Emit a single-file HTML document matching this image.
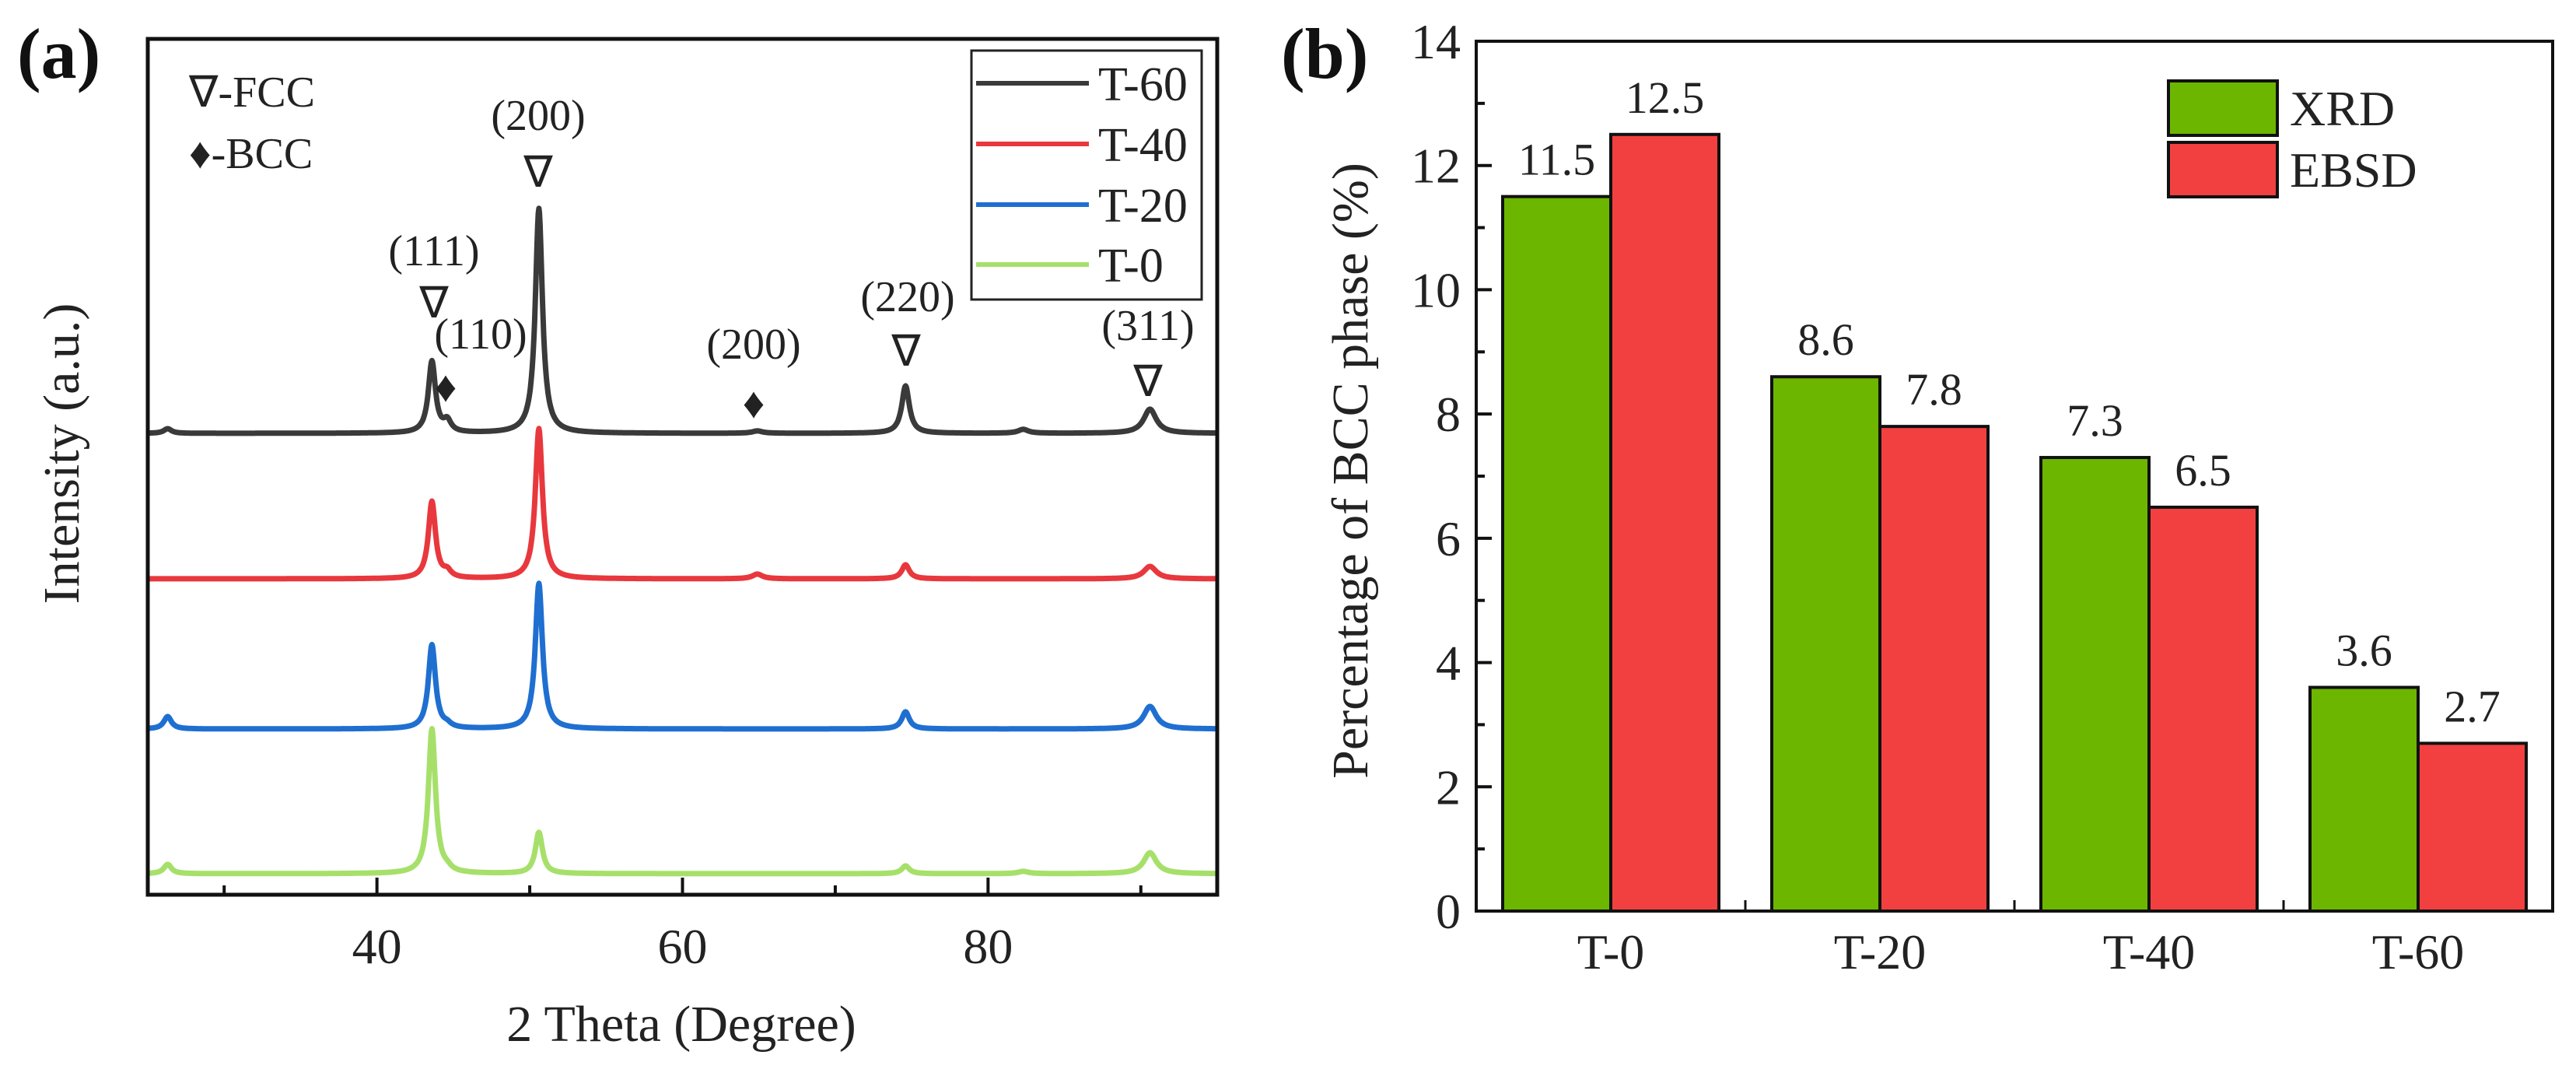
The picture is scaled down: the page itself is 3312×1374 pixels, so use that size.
<!DOCTYPE html>
<html>
<head>
<meta charset="utf-8">
<style>
html,body{margin:0;padding:0;background:#fff;}
svg{display:block;font-family:"Liberation Serif",serif;}
</style>
</head>
<body>
<svg id="fig" width="3312" height="1374" viewBox="0 0 3312 1374" xmlns="http://www.w3.org/2000/svg">
  <g id="panelA"></g>
  <g id="panelB"></g>
</svg>
<script>
// ---------- Panel (a) data ----------
const xrdSeries = ["T-60", "T-40", "T-20", "T-0"];
const xrdColors = ["#3a3a3a", "#e8383d", "#1f6fd1", "#a6e06a"];
const xrdOffsets = [593, 406, 213, 27];           // baseline offset (a.u.)
const peakPos = [26.3, 43.6, 44.6, 50.6, 64.9, 74.6, 82.3, 90.6];
const peakWidth = [0.3, 0.28, 0.3, 0.28, 0.4, 0.3, 0.4, 0.5];
const heightsT60 = [6, 92, 14, 289, 3, 61, 5, 31];
const heightsT40 = [0, 99, 8, 193, 6, 18, 0, 16];
const heightsT20 = [16, 108, 4, 187, 0, 22, 0, 29];
const heightsT0 = [12, 186, 4, 53, 0, 10, 3, 27];
const xrdHeights = [heightsT60, heightsT40, heightsT20, heightsT0];
const xTicks = [40, 60, 80];
const xMinorTicks = [30, 50, 70, 90];

// ---------- Panel (b) data ----------
const categories = ["T-0", "T-20", "T-40", "T-60"];
const xrdValues = [11.5, 8.6, 7.3, 3.6];
const ebsdValues = [12.5, 7.8, 6.5, 2.7];
const xrdLabels = ["11.5", "8.6", "7.3", "3.6"];
const ebsdLabels = ["12.5", "7.8", "6.5", "2.7"];
const yTicks = [0, 2, 4, 6, 8, 10, 12, 14];
const yMinorTicks = [1, 3, 5, 7, 9, 11, 13];

const NS = "http://www.w3.org/2000/svg";
function mk(parent, tag, attrs, text) {
  const e = document.createElementNS(NS, tag);
  for (const k in attrs) e.setAttribute(k, attrs[k]);
  if (text !== undefined) e.textContent = text;
  parent.appendChild(e);
  return e;
}

// ================= Panel A =================
const A = document.getElementById("panelA");
const aL = 190, aR = 1565, aT = 50, aB = 1150;
const xMin = 25, xMax = 95;
const ax = v => aL + (v - xMin) / (xMax - xMin) * (aR - aL);
const ay = v => aB - v;

xrdSeries.forEach((name, si) => {
  const h = xrdHeights[si];
  let d = "";
  for (let x = xMin; x <= xMax + 1e-9; x += 0.04) {
    let y = xrdOffsets[si];
    for (let p = 0; p < peakPos.length; p++) {
      const t = (x - peakPos[p]) / peakWidth[p];
      y += h[p] / (1 + t * t);
    }
    d += (d ? "L" : "M") + ax(x).toFixed(1) + "," + ay(y).toFixed(1);
  }
  const path = mk(A, "path", {d: d, fill: "none", stroke: xrdColors[si], "stroke-width": 7, "stroke-linejoin": "round"});
  
  
});

const fa = mk(A, "rect", {x: aL, y: aT, width: aR - aL, height: aB - aT, fill: "none", stroke: "#111", "stroke-width": 5});



xTicks.forEach(v => {
  const t = mk(A, "line", {x1: ax(v), x2: ax(v), y1: aB, y2: aB - 22, stroke: "#111", "stroke-width": 4});
  
  
  const l = mk(A, "text", {x: ax(v), y: 1238, "font-size": 64, "text-anchor": "middle", fill: "#222"}, String(v));
  
  
});
xMinorTicks.forEach(v => {
  const t = mk(A, "line", {x1: ax(v), x2: ax(v), y1: aB, y2: aB - 12, stroke: "#111", "stroke-width": 4});
  
  
});
</script>
<script>
(function(){
const A = document.getElementById("panelA");
function mk(parent, tag, attrs, text) {
  const e = document.createElementNS("http://www.w3.org/2000/svg", tag);
  for (const k in attrs) e.setAttribute(k, attrs[k]);
  if (text !== undefined) e.textContent = text;
  parent.appendChild(e);
  return e;
}
let e;
e = mk(A, "text", {x: 22, y: 100, "font-size": 92, "font-weight": "bold", fill: "#111"}, "(a)");
 
e = mk(A, "text", {x: 876, y: 1338, "font-size": 66, "text-anchor": "middle", fill: "#222"}, "2 Theta (Degree)");
 
e = mk(A, "text", {x: 0, y: 0, "font-size": 66, "text-anchor": "middle", fill: "#222", transform: "translate(101,583) rotate(-90)"}, "Intensity (a.u.)");
 
e = mk(A, "text", {x: 243, y: 137, "font-size": 56, fill: "#222"}, "∇-FCC");
 
e = mk(A, "text", {x: 243, y: 216, "font-size": 56, fill: "#222"}, "♦-BCC");
 

const ann = [
  ["(200)", 692, 167, "fcc-200-label"], ["∇", 692, 240, "fcc-200-marker"],
  ["(111)", 558, 341, "fcc-111-label"], ["∇", 558, 408, "fcc-111-marker"],
  ["(110)", 618, 448, "bcc-110-label"], ["♦", 573, 516, "bcc-110-marker"],
  ["(200)", 969, 461, "bcc-200-label"], ["♦", 969, 537, "bcc-200-marker"],
  ["(220)", 1167, 400, "fcc-220-label"], ["∇", 1165, 470, "fcc-220-marker"],
  ["(311)", 1476, 437, "fcc-311-label"], ["∇", 1476, 509, "fcc-311-marker"]
];
ann.forEach(a => {
  const t = mk(A, "text", {x: a[1], y: a[2], "font-size": 56, "text-anchor": "middle", fill: "#222"}, a[0]);
  
  
});

const lg = mk(A, "g", {});
 
e = mk(lg, "rect", {x: 1249, y: 65, width: 296, height: 320, fill: "#fff", stroke: "#222", "stroke-width": 3});
 
const names = ["T-60", "T-40", "T-20", "T-0"];
const cols = ["#3a3a3a", "#e8383d", "#1f6fd1", "#a6e06a"];
const rows = [107, 185, 263, 340];
names.forEach((n, i) => {
  const g = mk(lg, "g", {});
  
  
  mk(g, "line", {x1: 1255, x2: 1400, y1: rows[i], y2: rows[i], stroke: cols[i], "stroke-width": 6});
  mk(g, "text", {x: 1412, y: rows[i] + 22, "font-size": 62, fill: "#222"}, n);
});
})();
</script>
<script>
(function(){
const B = document.getElementById("panelB");
function mk(parent, tag, attrs, text) {
  const e = document.createElementNS("http://www.w3.org/2000/svg", tag);
  for (const k in attrs) e.setAttribute(k, attrs[k]);
  if (text !== undefined) e.textContent = text;
  parent.appendChild(e);
  return e;
}
const bL = 1898, bR = 3282, bT = 53, bB = 1171;
const yMax = 14;
const by = v => bB - v / yMax * (bB - bT);
const band = (bR - bL) / categories.length;
const bx = i => bL + band * (i + 0.5);
const bw = 139;

categories.forEach((c, i) => {
  const r1 = mk(B, "rect", {x: bx(i) - bw, y: by(xrdValues[i]), width: bw, height: bB - by(xrdValues[i]), fill: "#6db600", stroke: "#111", "stroke-width": 4});
  
  
  const r2 = mk(B, "rect", {x: bx(i), y: by(ebsdValues[i]), width: bw, height: bB - by(ebsdValues[i]), fill: "#f24040", stroke: "#111", "stroke-width": 4});
  
  
  const t1 = mk(B, "text", {x: bx(i) - bw / 2, y: by(xrdValues[i]) - 28, "font-size": 58, "text-anchor": "middle", fill: "#222"}, xrdLabels[i]);
  
  
  const t2 = mk(B, "text", {x: bx(i) + bw / 2, y: by(ebsdValues[i]) - 28, "font-size": 58, "text-anchor": "middle", fill: "#222"}, ebsdLabels[i]);
  
  
  const cl = mk(B, "text", {x: bx(i), y: 1245, "font-size": 64, "text-anchor": "middle", fill: "#222"}, c);
  
  
  if (i > 0) {
    const mt = mk(B, "line", {x1: bL + band * i, x2: bL + band * i, y1: bB, y2: bB - 14, stroke: "#111", "stroke-width": 3});
    
    
  }
});

const fb = mk(B, "rect", {x: bL, y: bT, width: bR - bL, height: bB - bT, fill: "none", stroke: "#111", "stroke-width": 4});



yTicks.forEach(v => {
  const t = mk(B, "line", {x1: bL, x2: bL + 20, y1: by(v), y2: by(v), stroke: "#111", "stroke-width": 4});
  
  
  const l = mk(B, "text", {x: 1878, y: by(v) + 22, "font-size": 64, "text-anchor": "end", fill: "#222"}, String(v));
  
  
});
yMinorTicks.forEach(v => {
  const t = mk(B, "line", {x1: bL, x2: bL + 11, y1: by(v), y2: by(v), stroke: "#111", "stroke-width": 4});
  
  
});

let e;
e = mk(B, "text", {x: 1647, y: 100, "font-size": 92, "font-weight": "bold", fill: "#111"}, "(b)");
 
e = mk(B, "text", {x: 0, y: 0, "font-size": 66, "text-anchor": "middle", fill: "#222", transform: "translate(1758,605) rotate(-90)"}, "Percentage of BCC phase (%)");
 

const lg = mk(B, "g", {});
 
const g1 = mk(lg, "g", {});
 
mk(g1, "rect", {x: 2788, y: 104, width: 140, height: 70, fill: "#6db600", stroke: "#111", "stroke-width": 4});
mk(g1, "text", {x: 2944, y: 161, "font-size": 64, fill: "#222"}, "XRD");
const g2 = mk(lg, "g", {});
 
mk(g2, "rect", {x: 2788, y: 183, width: 140, height: 70, fill: "#f24040", stroke: "#111", "stroke-width": 4});
mk(g2, "text", {x: 2944, y: 240, "font-size": 64, fill: "#222"}, "EBSD");
})();
</script>
</body>
</html>
